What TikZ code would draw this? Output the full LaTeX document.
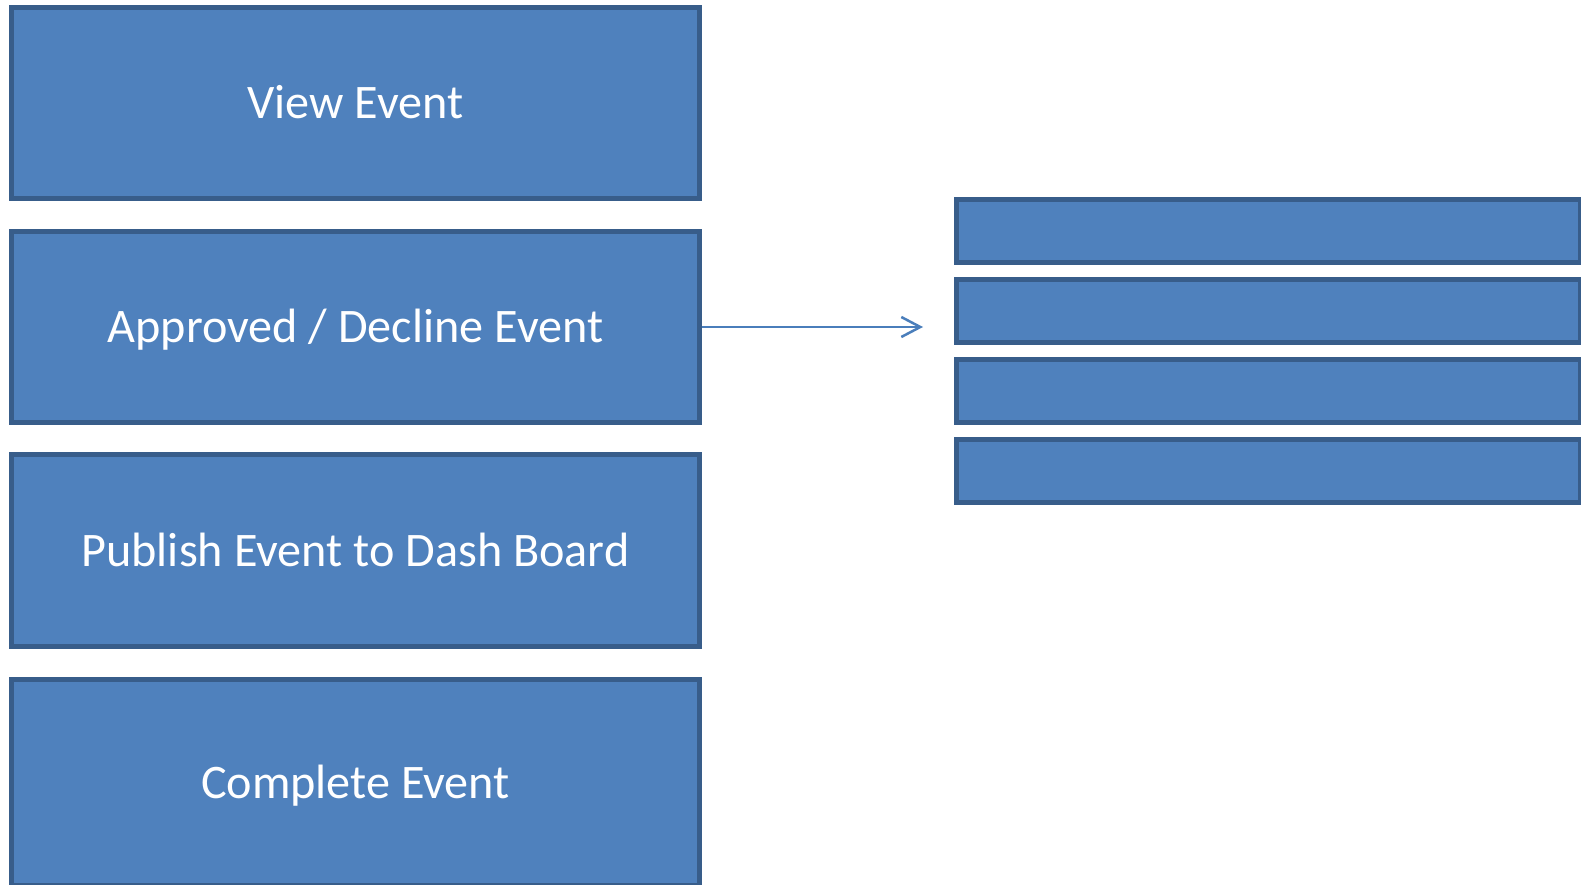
\documentclass[tikz,border=0pt]{standalone}
\usepackage{fontspec}
\setmainfont{Carlito}
\usetikzlibrary{arrows.meta}
\definecolor{boxfill}{HTML}{4F81BD}
\definecolor{boxline}{HTML}{385D8A}
\definecolor{arrowline}{HTML}{4A7EBB}

\begin{document}
\begin{tikzpicture}[x=0.01cm, y=-0.01cm,
    evbox/.style={draw=boxline, fill=boxfill, line width=0.05cm, minimum width=6.88cm, minimum height=1.91cm,
      inner sep=0pt, text=white, font=\fontsize{13.7}{16}\selectfont, text height=0.31cm, text depth=0pt},
    subbox/.style={draw=boxline, fill=boxfill, line width=0.05cm, minimum width=6.24cm, minimum height=0.63cm, inner sep=0pt}]
  \useasboundingbox (0,0) rectangle (1581,885);

  \node[evbox] (view) at (355.5,103) {View Event};
  \node[evbox] (approve) at (355.5,327) {Approved / Decline Event};
  \node[evbox] (publish) at (355.5,550.5) {Publish Event to Dash Board};
  \node[evbox, minimum height=2.06cm] (complete) at (355.5,782.75) {Complete Event};

  \node[subbox] (sub1) at (1268.5,231) {};
  \node[subbox] (sub2) at (1268.5,311) {};
  \node[subbox] (sub3) at (1268.5,391) {};
  \node[subbox] (sub4) at (1268.5,471) {};

  \coordinate (arrowend) at (923,327);
  \draw[-{Straight Barb[length=0.19cm, width=0.2cm]}, draw=arrowline, line width=0.025cm] (approve) -- (arrowend);
\end{tikzpicture}
\end{document}
